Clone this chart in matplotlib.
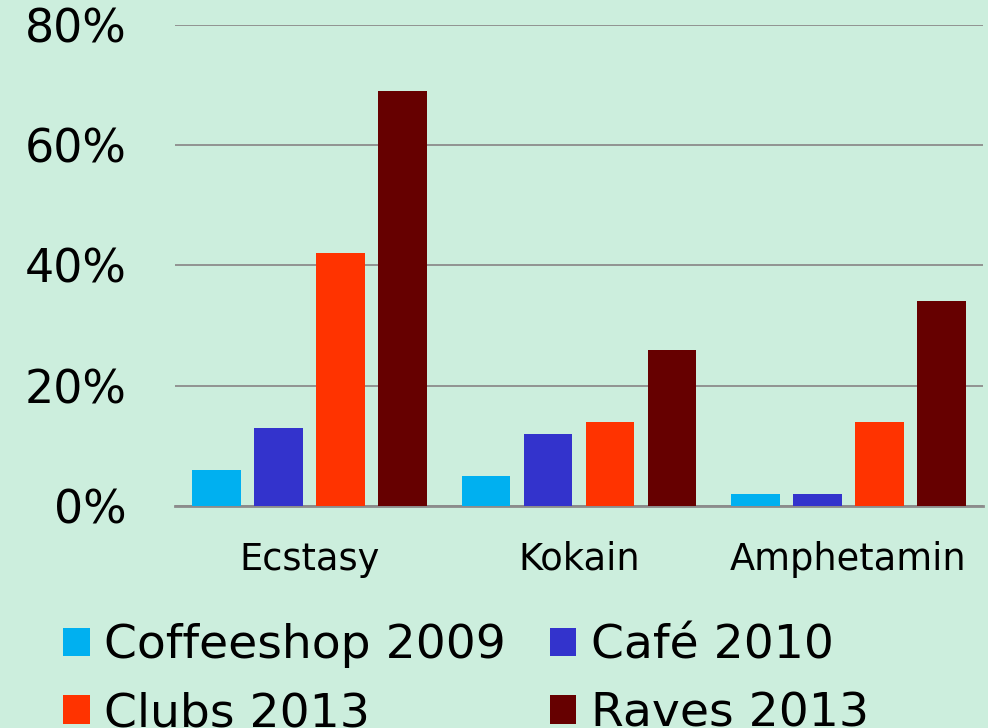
import numpy as np
import matplotlib
matplotlib.use('Agg')
from matplotlib import pyplot as plt
from matplotlib.patches import Patch

# drug categories and survey series (share of respondents)
drugs = ['Ecstasy', 'Kokain', 'Amphetamin']
series = ['Coffeeshop 2009', 'Café 2010', 'Clubs 2013', 'Raves 2013']
coffeeshop_2009 = [0.06, 0.05, 0.02]
cafe_2010 = [0.13, 0.12, 0.02]
clubs_2013 = [0.42, 0.14, 0.14]
raves_2013 = [0.69, 0.26, 0.34]
colors = ['#00B0F0', '#3333CC', '#FF3300', '#660000']
yticks = [0, 0.2, 0.4, 0.6, 0.8]
ytick_labels = ['0%', '20%', '40%', '60%', '80%']

bg = '#CCEEDD'
plt.rcParams['font.family'] = ['DejaVu Sans']

fig = plt.figure(figsize=(9.88, 7.28), dpi=100, facecolor=bg)
ax = fig.add_axes([0.177, 0.305, 0.818, 0.661], facecolor=bg)

x = np.arange(len(drugs))
step = 0.23
width = 0.18
all_vals = [coffeeshop_2009, cafe_2010, clubs_2013, raves_2013]
for i, vals in enumerate(all_vals):
    ax.bar(x + (i - 1.5) * step, vals, width, color=colors[i], zorder=3)

ax.set_xlim(-0.5, 2.5)
ax.set_ylim(0, 0.8)
ax.set_yticks(yticks)
ax.set_yticklabels(ytick_labels, fontsize=33)
ax.set_xticks(x)
ax.set_xticklabels(drugs, fontsize=26.5)
ax.tick_params(axis='both', length=0)
ax.tick_params(axis='y', pad=35)
ax.tick_params(axis='x', pad=25)
ax.grid(axis='y', color='#8C8C8C', linewidth=1.3, zorder=0)
for s in ['top', 'right', 'left']:
    ax.spines[s].set_visible(False)
ax.spines['bottom'].set_color('#8C8C8C')
ax.spines['bottom'].set_linewidth(2)

# legend is filled column-wise, so reorder to get row-wise layout
order = [0, 2, 1, 3]
handles = [Patch(facecolor=colors[i]) for i in order]
labels = [series[i] for i in order]
fig.legend(handles, labels, loc='upper left', bbox_to_anchor=(0.04, 0.176),
           ncol=2, frameon=False, fontsize=34, handlelength=0.57,
           handleheight=0.55, handletextpad=0.3, columnspacing=0.92,
           labelspacing=0.48, borderpad=0)

fig.savefig('out.png', dpi=100, facecolor=bg)
